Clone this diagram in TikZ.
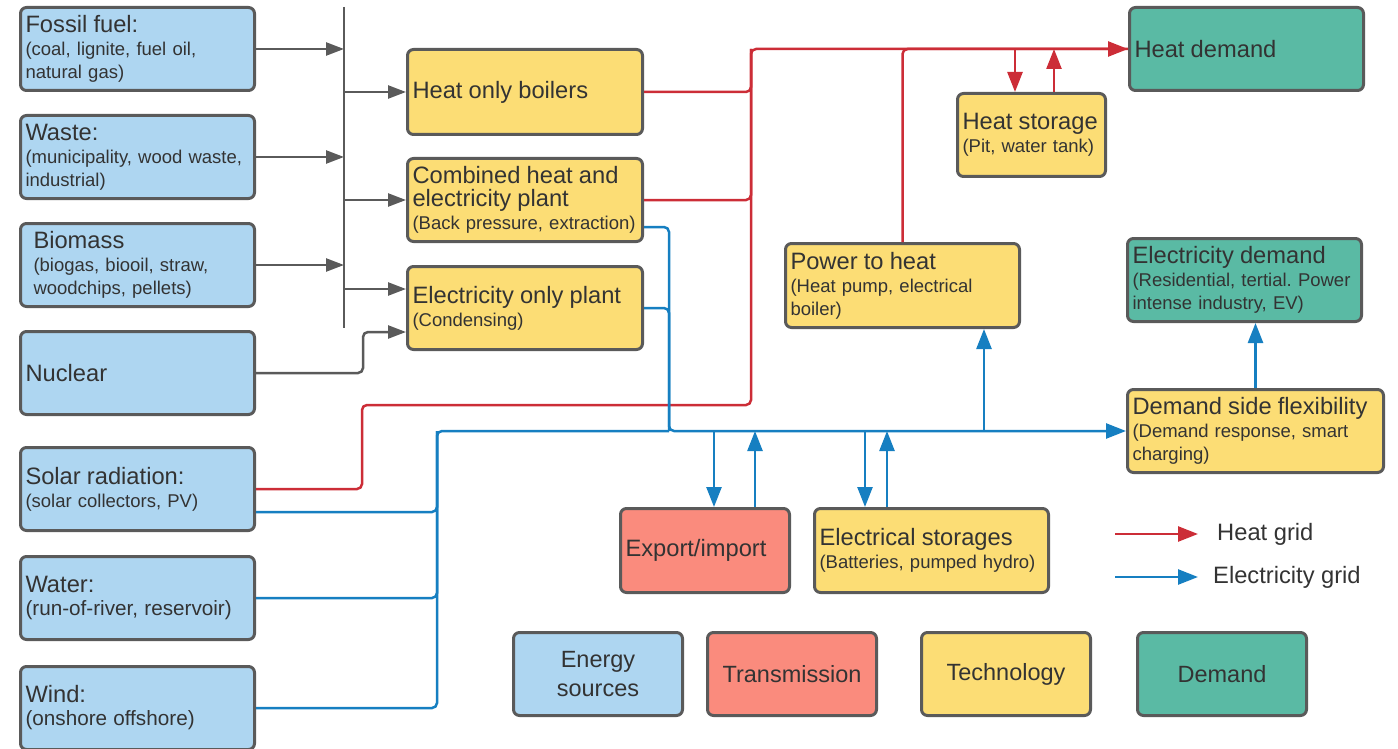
\documentclass[tikz,border=0pt]{standalone}
\usepackage{fontspec}
\setmainfont{Liberation Sans}
\usetikzlibrary{arrows.meta}
\frenchspacing

\definecolor{srcblue}{HTML}{AED6F1}
\definecolor{transred}{HTML}{FA8B7D}
\definecolor{techyel}{HTML}{FCDD75}
\definecolor{demteal}{HTML}{5ABAA4}
\definecolor{bord}{HTML}{5A5A5A}
\definecolor{txt}{HTML}{333333}
\definecolor{heatred}{HTML}{CC2D37}
\definecolor{elecblue}{HTML}{167FC1}

\newcommand{\boxtitle}[1]{{\fontsize{23.7}{26}\selectfont #1}}
\newcommand{\bigsub}[1]{{\fontsize{20.7}{24}\selectfont #1}}

\begin{document}
\begin{tikzpicture}[x=1pt, y=-1pt,
  box/.style={draw=bord, line width=3pt, rounded corners=6pt, inner xsep=5pt, inner ysep=0pt,
    align=left, text=txt, font=\fontsize{18.5}{23}\selectfont},
  src/.style={box, fill=srcblue, text width=224pt, minimum height=83pt},
  tech/.style={box, fill=techyel, minimum height=83pt},
  dem/.style={box, fill=demteal, minimum height=83pt},
  key/.style={box, align=center, text width=159pt, minimum height=83pt, font=\fontsize{23.5}{29}\selectfont},
  heat/.style={draw=heatred, line width=2.5pt, rounded corners=5pt},
  elec/.style={draw=elecblue, line width=2.5pt, rounded corners=5pt},
  feed/.style={draw=bord, line width=2.5pt, rounded corners=5pt},
  tip/.style={-{Triangle[length=20pt,width=15pt]}},
  gtip/.style={-{Triangle[length=18pt,width=13pt]}},
  legtext/.style={anchor=west, inner sep=0pt, text=txt, font=\fontsize{23.7}{26}\selectfont}]
\useasboundingbox (0,0) rectangle (1398,749);

% energy sources
\node[src] (fossil) at (137.5,49) {\boxtitle{Fossil fuel:}\\(coal, lignite, fuel oil,\\natural gas)};
\node[src] (waste) at (137.5,157) {\boxtitle{Waste:}\\(municipality, wood waste,\\industrial)};
\node[src, inner xsep=13pt, text width=208pt] (biomass) at (137.5,265) {\boxtitle{Biomass}\\(biogas, biooil, straw,\\woodchips, pellets)};
\node[src] (nuclear) at (137.5,373) {\boxtitle{Nuclear}};
\node[src] (solar) at (137.5,489) {\boxtitle{Solar radiation:}\\(solar collectors, PV)};
\node[src] (water) at (137.5,598) {\boxtitle{Water:}\\\bigsub{(run-of-river, reservoir)}};
\node[src] (wind) at (137.5,708) {\boxtitle{Wind:}\\\bigsub{(onshore offshore)}};

% technologies
\node[tech, text width=225pt, minimum height=85pt] (hob) at (525,92) {\boxtitle{Heat only boilers}};
\node[tech, text width=225pt] (chp) at (525,200) {\boxtitle{Combined heat and}\\\boxtitle{electricity plant}\\(Back pressure, extraction)};
\node[tech, text width=225pt] (eonly) at (525,308) {\boxtitle{Electricity only plant}\\(Condensing)};
\node[tech, text width=138pt] (hstore) at (1031.5,135) {\boxtitle{Heat storage}\\(Pit, water tank)};
\node[tech, text width=224pt, minimum height=84pt] (p2h) at (902.5,285.5) {\boxtitle{Power to heat}\\(Heat pump, electrical\\boiler)};
\node[tech, text width=246pt] (dsf) at (1255.5,431) {\boxtitle{Demand side flexibility}\\(Demand response, smart\\charging)};
\node[tech, text width=224pt, minimum height=84pt] (estore) at (931.5,550.5) {\boxtitle{Electrical storages}\\(Batteries, pumped hydro)};
\node[box, fill=transred, text width=159pt, minimum height=84pt] (export) at (705,550.5) {\boxtitle{Export/import}};

% demand
\node[dem, text width=224pt] (heatdem) at (1246.5,49) {\boxtitle{Heat demand}\\[3pt]};
\node[dem, text width=224pt] (elecdem) at (1244.5,280) {\boxtitle{Electricity demand}\\(Residential, tertial. Power\\intense industry, EV)};

% key
\node[key, fill=srcblue] (ksrc) at (598,674) {Energy\\sources};
\node[key, fill=transred] (ktrans) at (792,674) {Transmission};
\node[key, fill=techyel] (ktech) at (1006,674) {Technology};
\node[key, fill=demteal] (kdem) at (1222,674) {Demand};
\node[legtext] (lheat) at (1217,534) {Heat grid};
\node[legtext] (lelec) at (1213,577) {Electricity grid};

\coordinate (bustop) at (344,7);
\coordinate (busbot) at (344,328);
\coordinate (redtop) at (751,49);
\coordinate (redlow) at (362,405);
\coordinate (ebus) at (669,431);
\coordinate (ewest) at (437,431);

% fuel bus
\draw[feed] (bustop) -- (busbot);
\draw[feed, gtip] (fossil.east) -- (fossil.east -| bustop);
\draw[feed, gtip] (waste.east) -- (waste.east -| bustop);
\draw[feed, gtip] (biomass.east) -- (biomass.east -| bustop);
\draw[feed, gtip] (hob.west -| bustop) -- (hob.west);
\draw[feed, gtip] (chp.west -| bustop) -- (chp.west);
\draw[feed, gtip] ([yshift=19pt]eonly.west -| bustop) -- ([yshift=19pt]eonly.west);
\draw[feed, gtip] (nuclear.east) -| ([xshift=-43pt,yshift=-24pt]eonly.west) -- ([yshift=-24pt]eonly.west);

% heat grid
\draw[heat, tip] (solar.east) -| (redlow) -| (redtop) -- (heatdem.west);
\draw[heat] (hob.east) -| (redtop);
\draw[heat] (chp.east) -| (redtop);
\draw[heat] (p2h.north) |- (heatdem.west);
\draw[heat, tip] ([xshift=-16.5pt]hstore.north |- heatdem.west) -- ([xshift=-16.5pt]hstore.north);
\draw[heat, tip] ([xshift=22.5pt]hstore.north) -- ([xshift=22.5pt]hstore.north |- heatdem.west);

% electricity grid
\draw[elec, tip] ([yshift=-27pt]chp.east) -| (ebus) -- (dsf.west);
\draw[elec] (eonly.east) -| (ebus);
\draw[elec] ([yshift=-23pt]solar.east) -| (ewest) -- (ebus);
\draw[elec] (water.east) -| (ewest);
\draw[elec] (wind.east) -| (ewest);
\draw[elec, tip] ([xshift=9pt]export.north |- ebus) -- ([xshift=9pt]export.north);
\draw[elec, tip] ([xshift=50pt]export.north) -- ([xshift=50pt]export.north |- ebus);
\draw[elec, tip] ([xshift=-66.5pt]estore.north |- ebus) -- ([xshift=-66.5pt]estore.north);
\draw[elec, tip] ([xshift=-44.5pt]estore.north) -- ([xshift=-44.5pt]estore.north |- ebus);
\draw[elec, tip] ([xshift=81.5pt]p2h.south |- ebus) -- ([xshift=81.5pt]p2h.south);
\draw[elec, tip] (dsf.north) -- (dsf.north |- elecdem.south);

% legend arrows
\draw[heat, tip] ([xshift=-102pt]lheat.west) -- ([xshift=-19pt]lheat.west);
\draw[elec, tip] ([xshift=-98pt]lelec.west) -- ([xshift=-15pt]lelec.west);

\end{tikzpicture}
\end{document}
